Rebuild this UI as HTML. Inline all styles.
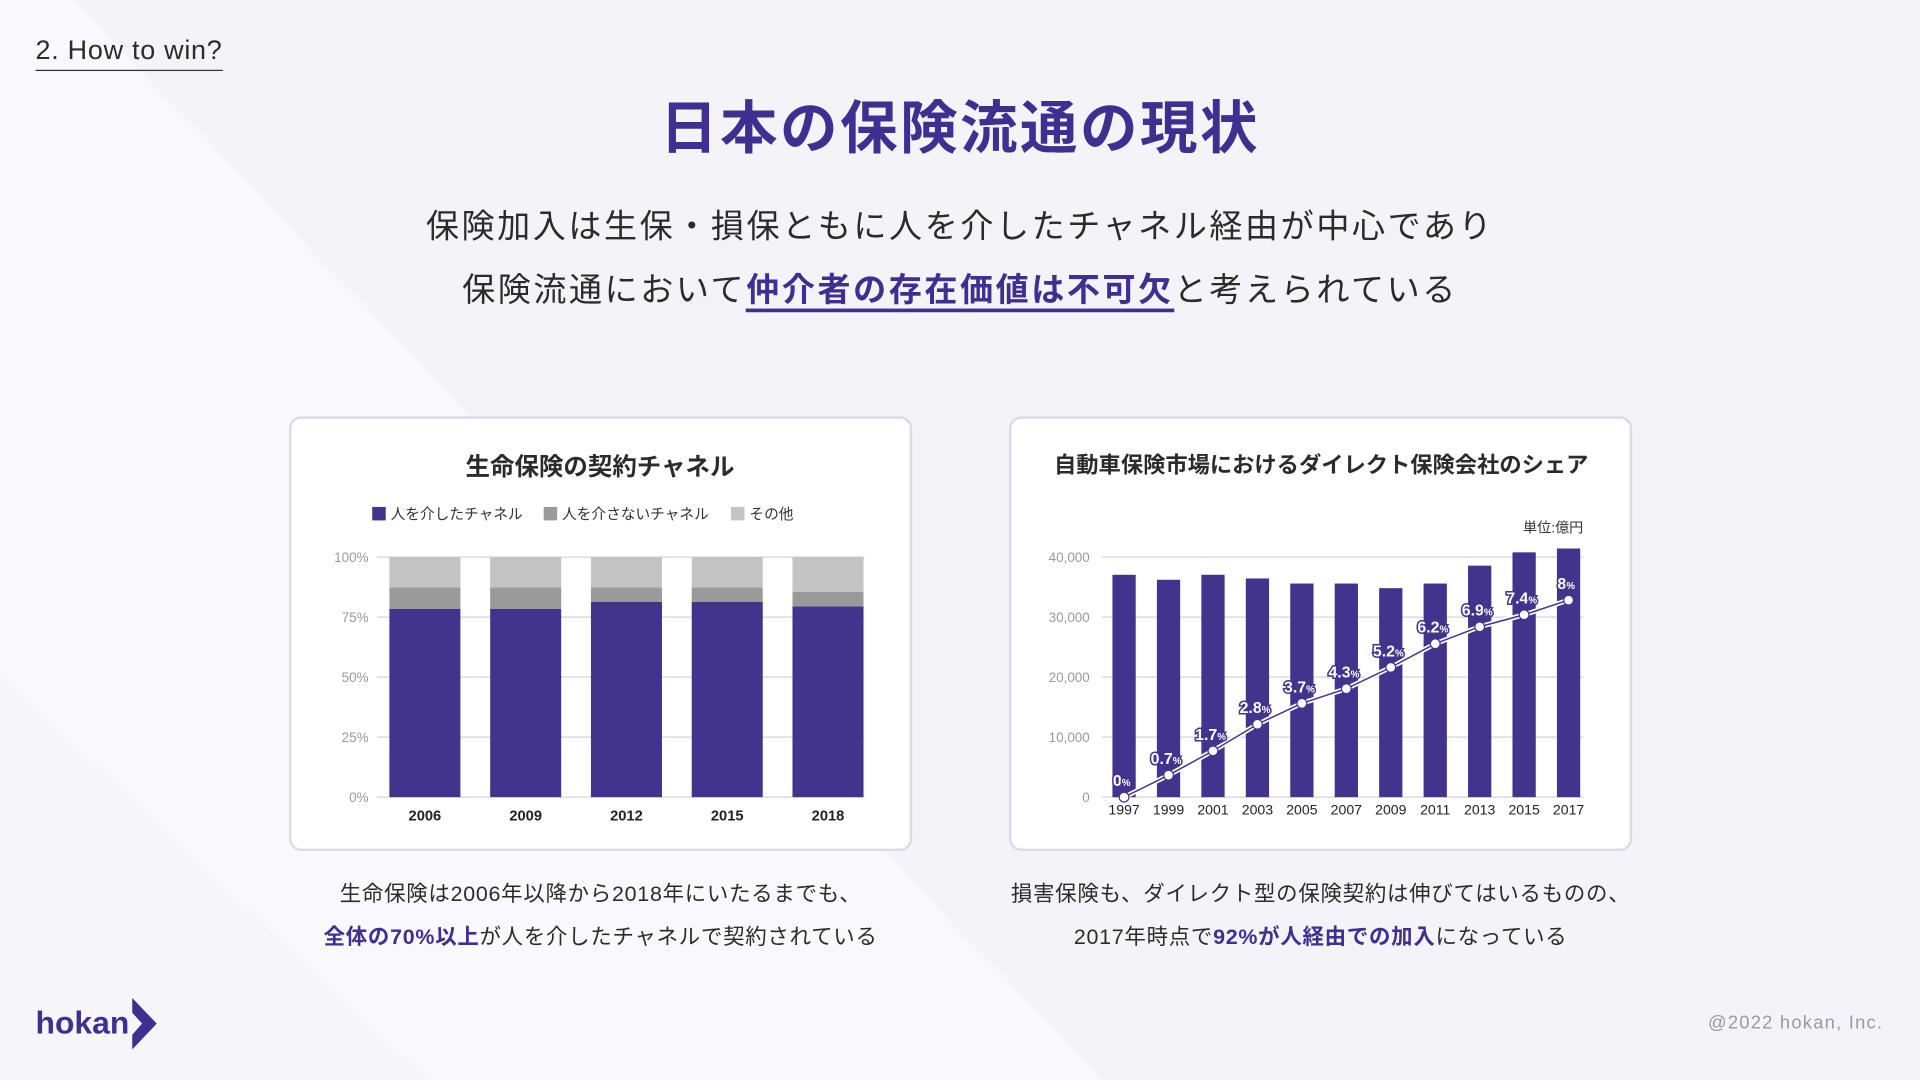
<!DOCTYPE html>
<html><head><meta charset="utf-8">
<style>
*{margin:0;padding:0;box-sizing:border-box}
html,body{width:1920px;height:1080px;overflow:hidden;background:#f4f3f8}
#stage{position:absolute;left:0;top:0;width:1568px;height:882px;transform:scale(1.224490);transform-origin:0 0;font-family:"Liberation Sans","Noto Sans CJK JP",sans-serif;color:#2b2b2b}
.abs{position:absolute}
.card{position:absolute;background:#fff;border:2px solid #dcd9ea;border-radius:10px}
.c{text-align:center;white-space:nowrap}
.hl{color:#3f2f91;font-weight:bold}
</style></head><body>
<div id="stage">
<svg class="abs" style="left:0;top:0" width="1568" height="882">
<polygon points="0,0 60,0 900,882 0,882" fill="#f9f8fc"/>
<polygon points="0,550 0,882 350,882" fill="#f6f5fa"/>
</svg>
<div class="abs" style="left:29px;top:28px;font-size:22px;letter-spacing:0.6px;color:#2b2b2b;border-bottom:1.5px solid #333;padding-bottom:3px;line-height:26px">2. How to win?</div>
<div class="abs c" style="left:0;width:1568px;top:76px;font-size:47px;letter-spacing:2px;font-weight:bold;color:#3f2f91;line-height:58px">日本の保険流通の現状</div>
<div class="abs c" style="left:0;width:1568px;top:167px;font-size:27px;line-height:36px;letter-spacing:2.1px">保険加入は生保・損保ともに人を介したチャネル経由が中心であり</div>
<div class="abs c" style="left:0;width:1568px;top:219px;font-size:27px;line-height:36px;letter-spacing:2.1px">保険流通において<span class="hl" style="border-bottom:3px solid #3f2f91">仲介者の存在価値は不可欠</span>と考えられている</div>

<div class="card" style="left:236px;top:340px;width:509px;height:355px"></div>
<div class="card" style="left:824px;top:340px;width:509px;height:355px"></div>

<svg class="abs" style="left:0;top:0" width="1568" height="882" id="charts">
<text x="490" y="388" text-anchor="middle" font-size="20" font-weight="bold" fill="#2b2b2b">生命保険の契約チャネル</text>
<g id="legend" font-size="12" fill="#333"></g>
<g id="left"></g>
<text x="1079" y="386" text-anchor="middle" font-size="18.2" font-weight="bold" fill="#2b2b2b">自動車保険市場におけるダイレクト保険会社のシェア</text>
<text x="1293" y="435" text-anchor="end" font-size="11.5" fill="#333">単位:億円</text>
<g id="right"></g>
</svg>

<div class="abs c" style="left:236px;width:509px;top:718px;font-size:17.5px;letter-spacing:0.6px;line-height:24px">生命保険は2006年以降から2018年にいたるまでも、</div>
<div class="abs c" style="left:236px;width:509px;top:753px;font-size:17.5px;letter-spacing:0.6px;line-height:24px"><span class="hl">全体の70%以上</span>が人を介したチャネルで契約されている</div>
<div class="abs c" style="left:824px;width:509px;top:718px;font-size:17.5px;letter-spacing:0.6px;line-height:24px">損害保険も、ダイレクト型の保険契約は伸びてはいるものの、</div>
<div class="abs c" style="left:824px;width:509px;top:753px;font-size:17.5px;letter-spacing:0.6px;line-height:24px">2017年時点で<span class="hl">92%が人経由での加入</span>になっている</div>

<div class="abs" style="left:29px;top:819px;font-size:26px;font-weight:bold;color:#3f2f91;line-height:32px">hokan</div>
<svg class="abs" style="left:106px;top:815px" width="24" height="42"><polygon points="2,0 22,21 2,42 2,30 10,21 2,12" fill="#3f2f91"/></svg>
<div class="abs" style="right:30px;top:827px;font-size:15px;letter-spacing:1px;color:#9a99a6">@2022 hokan, Inc.</div>
</div>
<script>
const NS='http://www.w3.org/2000/svg';
function mk(p,t,a){const e=document.createElementNS(NS,t);for(const k in a)e.setAttribute(k,a[k]);p.appendChild(e);return e;}
// ---- left chart data ----
const lifeYears=['2006','2009','2012','2015','2018'];
const personShare=[78.5,78.5,81.4,81.4,79.5];
const directShare=[8.9,8.9,6.0,6.0,6.0];
const otherShare=[12.6,12.6,12.6,12.6,14.5];
const lifeTicks=['0%','25%','50%','75%','100%'];
const lifeTickVals=[0,25,50,75,100];
const legendLabels=['人を介したチャネル','人を介さないチャネル','その他'];
const colors=['#42338d','#9a9a9a','#c3c3c3'];
// ---- right chart data ----
const autoYears=['1997','1999','2001','2003','2005','2007','2009','2011','2013','2015','2017'];
const marketSize=[37060,36230,37060,36450,35600,35600,34830,35600,38580,40800,41440];
const shareLabels=['0','0.7','1.7','2.8','3.7','4.3','5.2','6.2','6.9','7.4','8'];
const shareLinePos=[0,3660,7710,12150,15640,18080,21630,25570,28400,30400,32840];
const autoTicks=['0','10,000','20,000','30,000','40,000'];
const autoTickVals=[0,10000,20000,30000,40000];

const L=document.getElementById('left'),R=document.getElementById('right'),LG=document.getElementById('legend');
const lgX=[304,444,597];
legendLabels.forEach((s,i)=>{
 const r=mk(LG,'rect',{x:lgX[i],y:414,width:11,height:11,fill:colors[i]});
 
 
 const t=mk(LG,'text',{x:lgX[i]+15,y:424});t.textContent=s;
 
 
});
const lx0=308,lx1=706,ly0=651,ly1=455;
const ly=v=>ly0-(v/100)*(ly0-ly1);
const lband=82.3;
const lx=i=>347+lband*i;
lifeTickVals.forEach((v,i)=>{
 const g=mk(L,'line',{x1:lx0,x2:lx1,y1:ly(v),y2:ly(v),stroke:'#d4d1e0','stroke-width':1});
 
 
 const t=mk(L,'text',{x:lx0-7,y:ly(v)+4,'text-anchor':'end','font-size':11,fill:'#999'});t.textContent=lifeTicks[i];
 
 
});
const bw=58;
lifeYears.forEach((y,i)=>{
 let acc=0;[personShare,directShare,otherShare].forEach((arr,k)=>{
  const v=arr[i];
  const r=mk(L,'rect',{x:lx(i)-bw/2,y:ly(acc+v),width:bw,height:ly(acc)-ly(acc+v),fill:colors[k]});
  
  
  acc+=v;
 });
 const t=mk(L,'text',{x:lx(i),y:670,'text-anchor':'middle','font-size':12,'font-weight':'bold',fill:'#222'});t.textContent=y;
 
 
});
const rx0=900,rx1=1293,ry0=651,ry1=455;
const ry=v=>ry0-(v/40000)*(ry0-ry1);
const rband=36.3;
const rx=i=>918+rband*i;
autoTickVals.forEach((v,i)=>{
 const g=mk(R,'line',{x1:rx0,x2:rx1,y1:ry(v),y2:ry(v),stroke:'#d4d1e0','stroke-width':1});
 
 
 const t=mk(R,'text',{x:rx0-10,y:ry(v)+4,'text-anchor':'end','font-size':11,fill:'#999'});t.textContent=autoTicks[i];
 
 
});
autoYears.forEach((y,i)=>{
 const r=mk(R,'rect',{x:rx(i)-9.5,y:ry(marketSize[i]),width:19,height:ry0-ry(marketSize[i]),fill:'#42338d'});
 
 
 const t=mk(R,'text',{x:rx(i),y:665,'text-anchor':'middle','font-size':11.5,fill:'#222'});t.textContent=y;
 
 
});
const pts=shareLinePos.map((v,i)=>rx(i)+','+ry(v)).join(' ');
const l1=mk(R,'polyline',{points:pts,fill:'none',stroke:'#fff','stroke-width':4});


const l2=mk(R,'polyline',{points:pts,fill:'none',stroke:'#42338d','stroke-width':1.2});


shareLinePos.forEach((v,i)=>{
 const c=mk(R,'circle',{cx:rx(i),cy:ry(v),r:4,fill:'#fff',stroke:'#42338d','stroke-width':1});
 
 
 const t=mk(R,'text',{x:rx(i)-2,y:ry(v)-9,'text-anchor':'middle','font-size':13,'font-weight':'bold',fill:'#fff',stroke:'#42338d','stroke-width':2.5,'paint-order':'stroke'});
 t.textContent=shareLabels[i];
 const p=mk(t,'tspan',{'font-size':8});p.textContent='%';
 
 
});
</script>
</body></html>
